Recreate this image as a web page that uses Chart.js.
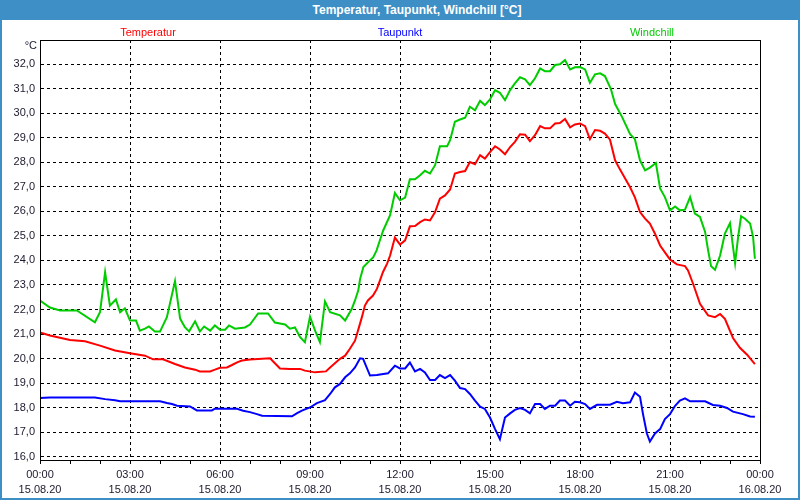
<!DOCTYPE html>
<html>
<head>
<meta charset="utf-8">
<script src="https://cdn.jsdelivr.net/npm/chart.js@4"></script>
<style>
    html, body { margin: 0; padding: 0; background: #fff; }
    #wrap { position: relative; width: 800px; height: 500px; overflow: hidden; background: #fff; font-family: "Liberation Sans", Arial, sans-serif; }
    #chart { position: absolute; left: 0; top: 0; }
    #titlebar { position: absolute; left: 0; top: 0; width: 800px; height: 20px; background: #3e8fc5; }
    #title { position: absolute; left: 417px; top: 10px; transform: translate(-50%, -50%); color: #fff; font-weight: bold; font-size: 12px; white-space: nowrap; }
    #border { position: absolute; left: 0; top: 20px; width: 800px; height: 480px; box-sizing: border-box; border: 2px solid #3e8fc5; border-top: none; pointer-events: none; }
    .lbl { position: absolute; top: 32px; transform: translate(-50%, -50%); font-size: 11px; white-space: nowrap; }
</style>
</head>
<body>
<div id="wrap">
    <canvas id="chart" width="800" height="500"></canvas>
    <div id="titlebar"><div id="title">Temperatur, Taupunkt, Windchill [°C]</div></div>
    <div id="border"></div>
    <div class="lbl" style="left:148px;color:#ff0000">Temperatur</div>
    <div class="lbl" style="left:400px;color:#0000ff">Taupunkt</div>
    <div class="lbl" style="left:652px;color:#00cc00">Windchill</div>
</div>
<script>
// ---- data (hours since 00:00 on 15.08.20, values in °C) ----
const tempHours = [
    0, 0.33, 1, 1.5, 2, 2.5, 3, 3.5, 3.77, 4.1,
    4.5, 4.83, 5.17, 5.33, 5.67, 5.83, 6, 6.23, 6.4, 6.57,
    6.73, 7, 7.67, 7.83, 8, 8.33, 8.67, 8.83, 9.17, 9.53,
    9.67, 9.83, 10, 10.17, 10.33, 10.5, 10.6, 10.73, 10.83, 10.93,
    11.1, 11.23, 11.33, 11.43, 11.57, 11.67, 11.83, 12, 12.17, 12.33,
    12.5, 12.67, 12.83, 13, 13.17, 13.33, 13.5, 13.67, 13.83, 14,
    14.17, 14.33, 14.5, 14.67, 14.83, 15, 15.17, 15.33, 15.5, 15.67,
    15.83, 16, 16.17, 16.33, 16.5, 16.67, 16.83, 17, 17.17, 17.33,
    17.5, 17.67, 17.83, 18, 18.17, 18.33, 18.5, 18.67, 18.83, 19,
    19.17, 19.33, 19.5, 19.67, 19.83, 20, 20.17, 20.33, 20.5, 20.67,
    20.83, 21, 21.23, 21.5, 21.6, 21.77, 22, 22.27, 22.5, 22.67,
    22.83, 23.1, 23.33, 23.57, 23.83
];
const tempValues = [
    21.07, 20.94, 20.76, 20.71, 20.53, 20.33, 20.22, 20.12, 19.97, 19.97,
    19.78, 19.64, 19.55, 19.48, 19.48, 19.55, 19.63, 19.64, 19.74, 19.85,
    19.92, 19.96, 20.01, 19.81, 19.60, 19.58, 19.58, 19.51, 19.44, 19.48,
    19.64, 19.81, 19.99, 20.12, 20.40, 20.73, 21.14, 21.69, 22.16, 22.37,
    22.57, 22.84, 23.18, 23.52, 23.87, 24.20, 24.93, 24.65, 24.82, 25.39,
    25.40, 25.56, 25.67, 25.63, 25.97, 26.52, 26.65, 26.89, 27.54, 27.60,
    27.64, 28.01, 27.92, 28.29, 28.15, 28.41, 28.65, 28.52, 28.33, 28.62,
    28.83, 29.14, 29.12, 28.86, 29.10, 29.47, 29.38, 29.38, 29.58, 29.60,
    29.76, 29.42, 29.54, 29.58, 29.47, 28.94, 29.31, 29.28, 29.17, 28.92,
    28.08, 27.71, 27.35, 26.98, 26.57, 25.97, 25.70, 25.50, 25.09, 24.61,
    24.33, 24.04, 23.84, 23.77, 23.59, 23.05, 22.23, 21.76, 21.69, 21.82,
    21.62, 20.84, 20.44, 20.16, 19.78
];

const dewHours = [
    0, 0.33, 1.83, 2.17, 2.5, 2.67, 4, 4.23, 4.4, 4.57,
    5, 5.23, 5.73, 5.83, 6.57, 6.77, 7, 7.23, 7.4, 8.4,
    8.57, 8.73, 9, 9.23, 9.5, 9.67, 9.83, 10, 10.17, 10.33,
    10.5, 10.67, 10.77, 11, 11.23, 11.6, 11.83, 12, 12.17, 12.33,
    12.5, 12.67, 12.83, 13, 13.17, 13.33, 13.5, 13.67, 13.83, 14,
    14.17, 14.33, 14.5, 14.67, 14.83, 15, 15.17, 15.33, 15.5, 15.67,
    15.83, 16, 16.17, 16.33, 16.5, 16.67, 16.83, 17, 17.17, 17.33,
    17.5, 17.67, 17.83, 18, 18.17, 18.33, 18.57, 19, 19.23, 19.43,
    19.67, 19.83, 20, 20.1, 20.23, 20.33, 20.5, 20.67, 20.83, 21,
    21.17, 21.33, 21.5, 21.67, 22.17, 22.43, 22.67, 22.9, 23.1, 23.43,
    23.67, 23.83
];
const dewValues = [
    18.40, 18.42, 18.42, 18.35, 18.30, 18.26, 18.26, 18.19, 18.15, 18.08,
    18.05, 17.89, 17.89, 17.96, 17.96, 17.88, 17.82, 17.74, 17.67, 17.65,
    17.78, 17.88, 18.01, 18.19, 18.31, 18.56, 18.83, 18.97, 19.24, 19.40,
    19.64, 20.01, 19.99, 19.31, 19.33, 19.40, 19.71, 19.60, 19.60, 19.84,
    19.48, 19.58, 19.44, 19.13, 19.13, 19.33, 19.21, 19.33, 19.10, 18.80,
    18.76, 18.56, 18.29, 18.04, 17.95, 17.60, 17.13, 16.72, 17.60, 17.77,
    17.91, 17.99, 17.91, 17.77, 18.15, 18.15, 17.95, 18.08, 18.08, 18.29,
    18.29, 18.08, 18.24, 18.22, 18.15, 17.95, 18.12, 18.12, 18.24, 18.18,
    18.22, 18.62, 18.45, 17.74, 16.95, 16.62, 16.95, 17.13, 17.54, 17.74,
    18.08, 18.29, 18.38, 18.26, 18.26, 18.11, 18.08, 17.99, 17.84, 17.74,
    17.64, 17.63
];

const chillHours = [
    0, 0.33, 0.67, 1.23, 1.83, 2, 2.17, 2.33, 2.53, 2.67,
    2.83, 3, 3.2, 3.33, 3.5, 3.63, 3.83, 4, 4.23, 4.5,
    4.67, 4.83, 4.97, 5.17, 5.33, 5.47, 5.67, 5.83, 6, 6.17,
    6.3, 6.5, 6.83, 7, 7.27, 7.6, 7.83, 8.17, 8.33, 8.5,
    8.67, 8.83, 9, 9.17, 9.33, 9.5, 9.67, 10, 10.17, 10.39,
    10.5, 10.61, 10.67, 10.78, 10.94, 11.11, 11.22, 11.33, 11.44, 11.67,
    11.83, 12, 12.17, 12.33, 12.5, 12.67, 12.83, 13, 13.17, 13.33,
    13.57, 13.67, 13.83, 14, 14.17, 14.33, 14.5, 14.67, 14.83, 15,
    15.17, 15.33, 15.5, 15.67, 15.83, 16, 16.17, 16.33, 16.5, 16.67,
    16.83, 17, 17.17, 17.33, 17.5, 17.67, 17.83, 18, 18.17, 18.33,
    18.5, 18.67, 18.83, 19.03, 19.17, 19.4, 19.67, 19.83, 20, 20.17,
    20.33, 20.53, 20.67, 20.83, 21, 21.17, 21.33, 21.5, 21.67, 21.83,
    22, 22.17, 22.27, 22.37, 22.5, 22.67, 22.83, 23, 23.17, 23.27,
    23.37, 23.5, 23.67, 23.77, 23.83
];
const chillValues = [
    22.37, 22.08, 21.96, 21.96, 21.48, 21.89, 23.52, 22.16, 22.41, 21.89,
    22.05, 21.55, 21.55, 21.14, 21.22, 21.31, 21.10, 21.10, 21.69, 23.16,
    21.63, 21.28, 21.11, 21.52, 21.11, 21.31, 21.14, 21.35, 21.18, 21.18,
    21.35, 21.22, 21.27, 21.39, 21.84, 21.84, 21.47, 21.39, 21.22, 21.27,
    20.87, 20.67, 21.71, 21.14, 20.67, 22.33, 21.89, 21.76, 21.55, 22.02,
    22.37, 22.78, 23.25, 23.73, 23.93, 24.13, 24.41, 24.82, 25.22, 25.84,
    26.75, 26.45, 26.56, 27.31, 27.31, 27.47, 27.65, 27.54, 27.88, 28.65,
    28.65, 28.90, 29.65, 29.74, 29.81, 30.26, 30.12, 30.50, 30.33, 30.56,
    30.94, 30.83, 30.53, 30.94, 31.21, 31.46, 31.38, 31.14, 31.42, 31.82,
    31.71, 31.71, 31.96, 31.99, 32.16, 31.78, 31.87, 31.88, 31.78, 31.24,
    31.58, 31.62, 31.51, 30.98, 30.37, 29.85, 29.14, 28.94, 28.08, 27.67,
    27.78, 27.97, 26.93, 26.58, 26.04, 26.20, 26.04, 26.07, 26.58, 25.91,
    25.77, 25.16, 24.41, 23.76, 23.62, 24.20, 25.09, 25.52, 23.89, 24.95,
    25.80, 25.70, 25.50, 24.95, 24.07
];

// axis ticks
const hourTicks = [0, 1, 2, 3, 4, 5, 6, 7, 8, 9, 10, 11, 12, 13, 14, 15, 16, 17, 18, 19, 20, 21, 22, 23, 24];
const timeLabels = {0: '00:00', 3: '03:00', 6: '06:00', 9: '09:00', 12: '12:00', 15: '15:00', 18: '18:00', 21: '21:00', 24: '00:00'};
const dateLabels = {0: '15.08.20', 3: '15.08.20', 6: '15.08.20', 9: '15.08.20', 12: '15.08.20', 15: '15.08.20', 18: '15.08.20', 21: '15.08.20', 24: '16.08.20'};
const tempTicks = [16, 17, 18, 19, 20, 21, 22, 23, 24, 25, 26, 27, 28, 29, 30, 31, 32];

const textColor = '#1a1a2e';
const tickFont = { family: '"Liberation Sans", Arial, sans-serif', size: 11, lineHeight: 15 / 11 };

function toPoints(hours, values) {
    return hours.map((h, i) => ({ x: h, y: values[i] }));
}

function lineSet(label, hours, values, color) {
    return {
        label: label,
        data: toPoints(hours, values),
        borderColor: color,
        backgroundColor: color,
        borderWidth: 2,
        pointRadius: 0,
        tension: 0,
        fill: false
    };
}

// frame round the plot area + unit label
const framePlugin = {
    id: 'frame',
    afterDraw(chart) {
        const { ctx, chartArea: a } = chart;
        ctx.save();
        ctx.strokeStyle = '#000';
        ctx.lineWidth = 1;
        ctx.strokeRect(a.left + 0.5, a.top + 0.5, a.right - a.left, a.bottom - a.top);
        ctx.fillStyle = textColor;
        ctx.font = '11px "Liberation Sans", Arial, sans-serif';
        ctx.textAlign = 'right';
        ctx.textBaseline = 'middle';
        ctx.fillText('°C', 37, 46);
        ctx.restore();
    }
};

new Chart(document.getElementById('chart').getContext('2d'), {
    type: 'line',
    data: {
        datasets: [
            lineSet('Windchill', chillHours, chillValues, '#00cc00'),
            lineSet('Temperatur', tempHours, tempValues, '#ff0000'),
            lineSet('Taupunkt', dewHours, dewValues, '#0000ff')
        ]
    },
    options: {
        responsive: false,
        animation: false,
        layout: { padding: { top: 40, right: 40, left: 0, bottom: 0 } },
        plugins: { legend: { display: false }, tooltip: { enabled: false }, title: { display: false } },
        scales: {
            x: {
                type: 'linear',
                min: 0,
                max: 24,
                afterBuildTicks: (axis) => { axis.ticks = hourTicks.map(v => ({ value: v })); },
                afterFit: (axis) => { axis.height = 40; },
                grid: {
                    color: (c) => (c.tick && c.tick.value % 3 === 0 && c.tick.value !== 0 && c.tick.value !== 24) ? '#000' : 'rgba(0,0,0,0)',
                    lineWidth: 1,
                    drawTicks: true,
                    tickLength: 4,
                    tickColor: '#000',
                    tickWidth: 1
                },
                border: { display: true, color: '#000', width: 1, dash: [3, 3] },
                ticks: {
                    autoSkip: false,
                    maxRotation: 0,
                    padding: 3,
                    color: textColor,
                    font: tickFont,
                    callback: (v) => timeLabels[v] !== undefined ? [timeLabels[v], dateLabels[v]] : ''
                }
            },
            y: {
                min: 15.87,
                max: 32.98,
                afterBuildTicks: (axis) => { axis.ticks = tempTicks.map(v => ({ value: v })); },
                afterFit: (axis) => { axis.width = 40; },
                grid: { color: '#000', lineWidth: 1, drawTicks: false },
                border: { display: true, color: '#000', width: 1, dash: [3, 3] },
                ticks: {
                    padding: 5,
                    color: textColor,
                    font: { family: '"Liberation Sans", Arial, sans-serif', size: 11 },
                    callback: (v) => v.toFixed(1).replace('.', ',')
                }
            }
        }
    },
    plugins: [framePlugin]
});
</script>
</body>
</html>
